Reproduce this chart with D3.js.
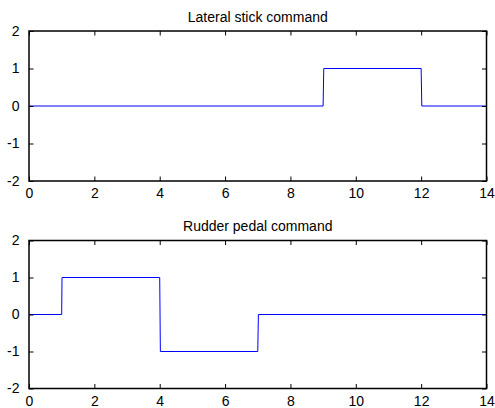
<!DOCTYPE html>
<html>
<head>
<meta charset="utf-8">
<script src="https://cdn.jsdelivr.net/npm/d3@7"></script>
<style>
  html, body { margin: 0; padding: 0; background: #fff; }
  svg { display: block; }
  text { font-family: "Liberation Sans", Arial, sans-serif; fill: #000; }
</style>
</head>
<body>
<svg id="chart" width="495" height="408"></svg>
<script>
// Command histories (time in s, command value)
const lateralTime  = [0, 9, 9.02, 12, 12.02, 14];
const lateralValue = [0, 0, 1,    1,  0,     0];
const rudderTime   = [0, 1, 1.01, 4, 4.02, 7, 7.02, 14];
const rudderValue  = [0, 0, 1,    1, -1,   -1, 0,    0];

const xTicks = [0, 2, 4, 6, 8, 10, 12, 14];
const yTicks = [-2, -1, 0, 1, 2];
const titles = ["Lateral stick command", "Rudder pedal command"];

// plain hyphen for negative numbers
const fmt = d => String(d);

const svg = d3.select("#chart");
const left = 29, right = 486.5;
const panels = [
  { top: 31,  bottom: 181,  time: lateralTime, value: lateralValue, title: titles[0] },
  { top: 240.5, bottom: 388.5, time: rudderTime, value: rudderValue, title: titles[1] }
];
const tickLen = 4.5;

panels.forEach(p => {
  const x = d3.scaleLinear().domain([0, 14]).range([left, right]);
  const y = d3.scaleLinear().domain([-2, 2]).range([p.bottom, p.top]);
  const g = svg.append("g");

  // data line
  const pts = p.time.map((t, i) => [t, p.value[i]]);
  g.append("path")
    .datum(pts)
    .attr("fill", "none")
    .attr("stroke", "#0000ff")
    .attr("stroke-width", 1)
    .attr("d", d3.line().x(d => x(d[0])).y(d => y(d[1])));

  // bottom axis with labels, inward ticks
  g.append("g")
    .attr("transform", `translate(0,${p.bottom})`)
    .call(d3.axisBottom(x).tickValues(xTicks).tickSizeInner(-tickLen).tickSizeOuter(0).tickPadding(tickLen + 3)
      .tickFormat(fmt))
    .call(a => a.select(".domain").remove())
    .call(a => a.selectAll("text").attr("font-size", 14).attr("dy", "0.71em"));

  // top ticks
  g.append("g")
    .attr("transform", `translate(0,${p.top})`)
    .call(d3.axisTop(x).tickValues(xTicks).tickSizeInner(-tickLen).tickSizeOuter(0).tickFormat(""))
    .call(a => a.select(".domain").remove());

  // left axis with labels
  g.append("g")
    .attr("transform", `translate(${left},0)`)
    .call(d3.axisLeft(y).tickValues(yTicks).tickSizeInner(-tickLen).tickSizeOuter(0).tickPadding(tickLen + 5)
      .tickFormat(fmt))
    .call(a => a.select(".domain").remove())
    .call(a => a.selectAll("text").attr("font-size", 14));

  // right ticks
  g.append("g")
    .attr("transform", `translate(${right},0)`)
    .call(d3.axisRight(y).tickValues(yTicks).tickSizeInner(-tickLen).tickSizeOuter(0).tickFormat(""))
    .call(a => a.select(".domain").remove());

  g.selectAll(".tick line").attr("stroke", "#000").attr("stroke-width", 1);

  // box
  g.append("rect")
    .attr("x", left).attr("y", p.top)
    .attr("width", right - left).attr("height", p.bottom - p.top)
    .attr("fill", "none").attr("stroke", "#000").attr("stroke-width", 1.5);

  // title
  g.append("text")
    .attr("x", (left + right) / 2)
    .attr("y", p.top - 9.5)
    .attr("text-anchor", "middle")
    .attr("font-size", 14)
    .text(p.title);
});
</script>
</body>
</html>
